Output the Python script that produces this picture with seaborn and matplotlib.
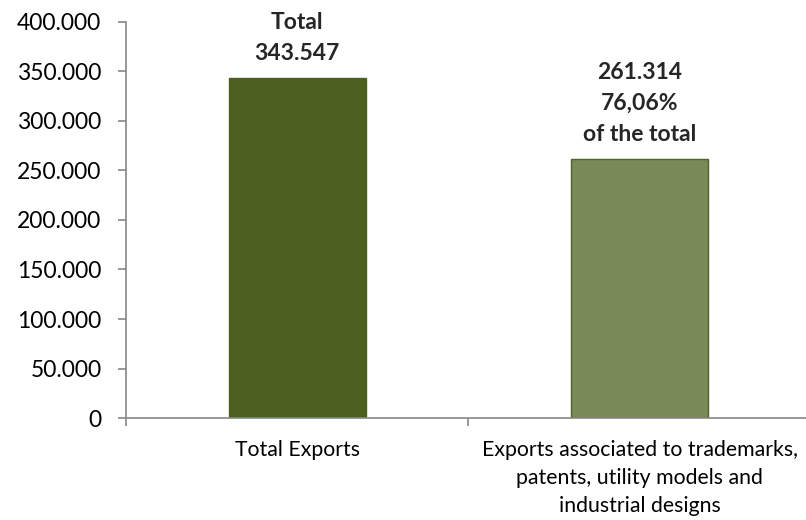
import matplotlib
matplotlib.use("Agg")
import matplotlib.pyplot as plt
import matplotlib.ticker as mticker
import seaborn as sns
import pandas as pd

categories = ["Total Exports",
              "Exports associated to trademarks,\npatents, utility models and\nindustrial designs"]
values = [343547, 261314]
bar_labels = ["Total\n343.547", "261.314\n76,06%\nof the total"]
colors = ["#4B5F1E", "#7A8A56"]
edge_colors = ["#4B5F1E", "#4F6228"]
y_ticks = [0, 50000, 100000, 150000, 200000, 250000, 300000, 350000, 400000]

sns.set_theme(style="white")
plt.rcParams["font.family"] = ["Lato", "DejaVu Sans"]

df = pd.DataFrame({"cat": categories, "val": values})

fig = plt.figure(figsize=(8.06, 5.20), dpi=100)
ax = fig.add_axes([0.156, 0.196, 0.85, 0.762])

sns.barplot(data=df, x="cat", y="val", hue="cat", palette=colors,
            width=0.4, legend=False, ax=ax, saturation=1)
for patch, ec in zip(ax.patches, edge_colors):
    patch.set_edgecolor(ec)
    patch.set_linewidth(1.0)

ax.set_ylim(0, 400000)
ax.set_xlim(-0.5, 1.5)
ax.set_yticks(y_ticks)
ax.yaxis.set_major_formatter(mticker.FuncFormatter(
    lambda v, p: f"{v:,.0f}".replace(",", ".")))
ax.tick_params(axis="y", labelsize=16.5, colors="#888888", labelcolor="black",
               direction="out", length=5.5, width=1.2, left=True, pad=12)

# x ticks at boundaries, labels at centres
ax.set_xticks([-0.5, 0.5, 1.5])
ax.set_xticklabels(["", "", ""])
ax.set_xticks([0, 1], minor=True)
ax.set_xticklabels(categories, minor=True, fontsize=15.3, linespacing=1.5)
ax.tick_params(axis="x", which="major", direction="out", length=5.5, width=1.2,
               colors="#888888", bottom=True)
ax.tick_params(axis="x", which="minor", length=0, pad=16, labelcolor="black")
ax.set_xlabel("")
ax.set_ylabel("")

for s in ["top", "right"]:
    ax.spines[s].set_visible(False)
for s in ["left", "bottom"]:
    ax.spines[s].set_color("#888888")
    ax.spines[s].set_linewidth(1.2)

for i, (v, lab) in enumerate(zip(values, bar_labels)):
    ax.annotate(lab, xy=(i, v), xytext=(0, 10), textcoords="offset points",
                ha="center", va="bottom", fontsize=16.5, fontweight="bold",
                linespacing=1.6)

fig.savefig("out.png", dpi=100, facecolor="white")
